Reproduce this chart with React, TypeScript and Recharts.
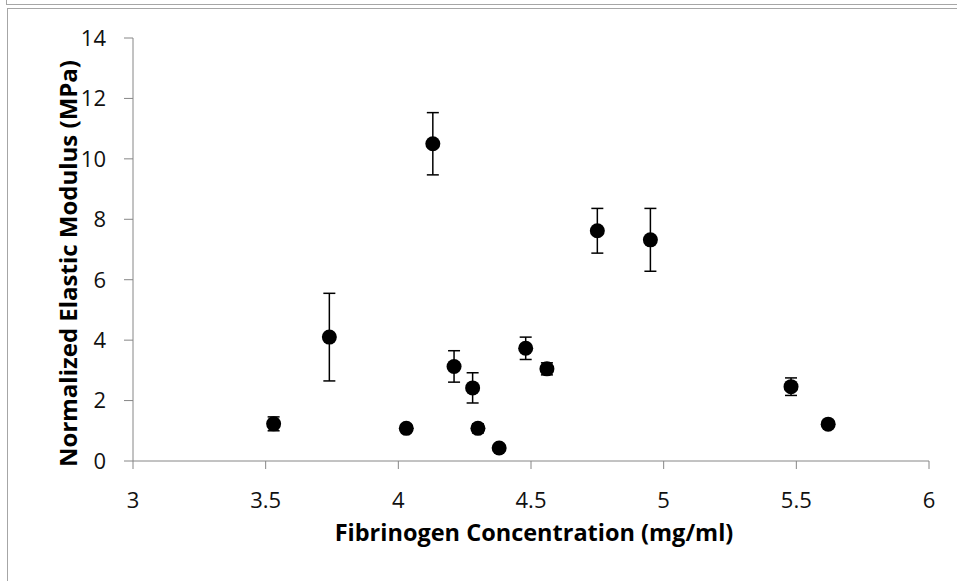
import { ScatterChart, Scatter, XAxis, YAxis, ErrorBar, Label } from "recharts";

// fibrinogen concentration (mg/ml)
const conc = [3.53, 3.74, 4.03, 4.13, 4.21, 4.28, 4.3, 4.38, 4.48, 4.56, 4.75, 4.95, 5.48, 5.62];
// normalized elastic modulus (MPa)
const modulus = [1.23, 4.1, 1.08, 10.5, 3.13, 2.42, 1.08, 0.43, 3.73, 3.05, 7.62, 7.32, 2.46, 1.22];
// error bar (+/-)
const modErr = [0.23, 1.45, 0.1, 1.03, 0.52, 0.5, 0.15, 0.1, 0.37, 0.2, 0.74, 1.04, 0.29, 0.1];

const xTicks = [3, 3.5, 4, 4.5, 5, 5.5, 6];
const yTicks = [0, 2, 4, 6, 8, 10, 12, 14];

const data = conc.map((c, i) => ({ x: c, y: modulus[i], err: modErr[i] }));

const FONT = "'Open Sans', sans-serif";
const AXIS = "#868686";

export default function App() {
  return (
    <div style={{ position: "absolute", left: 0, top: 0, width: 957, height: 581, background: "#fff", fontFamily: FONT }}>
      {/* frame lines */}
      <div style={{ position: "absolute", left: 6, top: 0, width: 1, height: 4, background: "#a6a6a6" }} />
      <div style={{ position: "absolute", left: 6, top: 4, width: 951, height: 1, background: "#a6a6a6" }} />
      <div style={{ position: "absolute", left: 7, top: 8, width: 950, height: 1, background: "#a6a6a6" }} />
      <div style={{ position: "absolute", left: 7, top: 8, width: 1, height: 573, background: "#a6a6a6" }} />

      <ScatterChart width={957} height={581} margin={{ top: 38, right: 28, bottom: 0, left: 73 }} style={{ position: "absolute", left: 0, top: 0 }}>
        <XAxis
          type="number"
          dataKey="x"
          domain={[3, 6]}
          ticks={xTicks}
          height={120}
          stroke={AXIS}
          tickSize={8}
          tickMargin={23}
          tick={{ fill: "#111", fontSize: 22, fontFamily: FONT }}
        >
          <Label
            content={(p: any) => {
              const vb = p.viewBox;
              return (
                <text x={vb.x + vb.width / 2 + 3} y={vb.y + 80} textAnchor="middle" fontSize={23.5} fontWeight="bold" fontFamily={FONT} fill="#000">
                  Fibrinogen Concentration (mg/ml)
                </text>
              );
            }}
          />
        </XAxis>
        <YAxis
          type="number"
          dataKey="y"
          domain={[0, 14]}
          ticks={yTicks}
          width={60}
          stroke={AXIS}
          tickSize={9}
          tickMargin={18}
          tick={{ fill: "#111", fontSize: 22, fontFamily: FONT }}
        >
          <Label
            content={(p: any) => {
              const vb = p.viewBox;
              const cx = vb.x - 6;
              const cy = vb.y + vb.height / 2 + 14;
              return (
                <text x={cx} y={cy} transform={`rotate(-90 ${cx} ${cy})`} textAnchor="middle" dominantBaseline="central" fontSize={24} fontWeight="bold" fontFamily={FONT} fill="#000">
                  Normalized Elastic Modulus (MPa)
                </text>
              );
            }}
          />
        </YAxis>
        <Scatter
          data={data}
          isAnimationActive={false}
          shape={(p: any) => <circle cx={p.cx} cy={p.cy} r={7.5} fill="#000" />}
        >
          <ErrorBar dataKey="err" direction="y" width={6} stroke="#000" strokeWidth={1.5} />
        </Scatter>
      </ScatterChart>
    </div>
  );
}
